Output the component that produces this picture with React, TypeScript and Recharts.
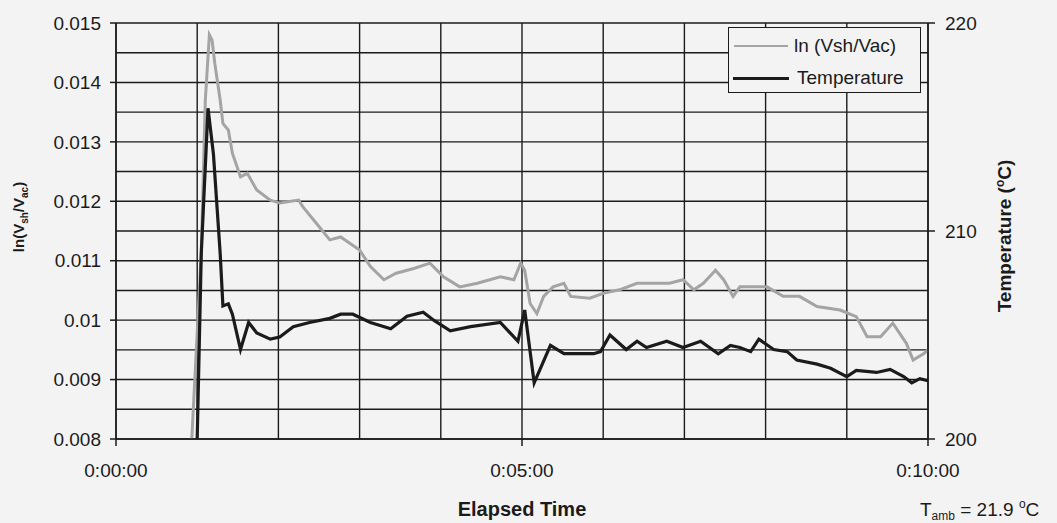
import React from 'react';
import { LineChart, Line, XAxis, YAxis, CartesianGrid, Legend } from 'recharts';

// ln(Vsh/Vac) trace, seconds from start
const lnTime = [
  56, 63, 66, 69, 71, 73, 77, 79, 83, 86, 92, 97, 104, 114, 121, 135, 138, 148, 158, 166,
  180, 188, 198, 207, 220, 232, 242, 254, 267, 284, 294, 299, 302, 306, 311, 316, 323, 331,
  336, 350, 360, 372, 385, 397, 409, 419, 427, 434, 443, 449, 456, 461, 469, 481, 493, 505,
  518, 535, 547, 555, 565, 574, 584, 589, 597, 600,
];
const lnRatio = [
  0.008, 0.01113, 0.0137, 0.0148, 0.01471, 0.01432, 0.0137, 0.01331, 0.0132, 0.01281,
  0.01241, 0.01247, 0.01219, 0.01202, 0.01197, 0.01202, 0.01191, 0.01163, 0.01135, 0.0114,
  0.01118, 0.0109, 0.01068, 0.01079, 0.01087, 0.01096, 0.01073, 0.01056, 0.01062, 0.01073,
  0.01068, 0.01096, 0.01084, 0.01028, 0.01011, 0.0104, 0.01056, 0.01062, 0.0104, 0.01037,
  0.01045, 0.01051, 0.01062, 0.01062, 0.01062, 0.01068, 0.01051, 0.01062, 0.01084, 0.01068,
  0.0104, 0.01056, 0.01056, 0.01056, 0.0104, 0.0104, 0.01023, 0.01017, 0.01006, 0.00972,
  0.00972, 0.00995, 0.00961, 0.00933, 0.00944, 0.0095,
];

// temperature trace, seconds from start
const tempTime = [
  60, 63, 68, 72, 77, 79, 83, 86, 92, 98, 104, 114, 121, 131, 143, 158, 166, 175, 188, 203,
  215, 227, 235, 247, 262, 284, 297, 302, 309, 321, 331, 353, 358, 365, 377, 385, 392, 407,
  419, 432, 445, 454, 461, 469, 475, 486, 496, 503, 518, 528, 540, 547, 562, 572, 582, 588,
  594, 600,
];
const tempC = [
  200.0, 208.9, 215.9, 213.7, 208.9, 206.4, 206.5, 206.0, 204.3, 205.6, 205.1, 204.8, 204.9,
  205.4, 205.6, 205.8, 206.0, 206.0, 205.6, 205.3, 205.9, 206.1, 205.7, 205.2, 205.4, 205.6,
  204.7, 206.2, 202.7, 204.5, 204.1, 204.1, 204.2, 205.0, 204.3, 204.7, 204.4, 204.7, 204.4,
  204.7, 204.1, 204.5, 204.4, 204.2, 204.8, 204.3, 204.2, 203.8, 203.6, 203.4, 203.0, 203.3,
  203.2, 203.35, 203.0, 202.7, 202.9, 202.8,
];

const timeTicks = [0, 60, 120, 180, 240, 300, 360, 420, 480, 540, 600];
const timeLabelAt = [0, 300, 600];
const timeLabels = ['0:00:00', '0:05:00', '0:10:00'];

const lnTicks = [
  0.008, 0.0085, 0.009, 0.0095, 0.01, 0.0105, 0.011, 0.0115, 0.012, 0.0125, 0.013, 0.0135,
  0.014, 0.0145, 0.015,
];
const lnLabels = ['0.008', '0.009', '0.01', '0.011', '0.012', '0.013', '0.014', '0.015'];

const tempTicks = [200, 210, 220];

const lnData = lnTime.map((t, i) => ({ t, v: lnRatio[i] }));
const tempData = tempTime.map((t, i) => ({ t, temp: tempC[i] }));

const FONT = '"Liberation Sans", Arial, sans-serif';
const INK = '#1b1b1b';
const GREY = '#a4a4a4';

const LnTick = (props: any) => {
  const { x, y, payload } = props;
  const label = lnLabels.find((s) => Math.abs(parseFloat(s) - payload.value) < 1e-9);
  if (!label) return <g />;
  return (
    <g>
      <line x1={x - 6} x2={x} y1={y} y2={y} stroke={INK} strokeWidth={1.5} />
      <text x={x - 15} y={y} dy="0.35em" textAnchor="end" fontSize={19} fill={INK} fontFamily={FONT}>
        {label}
      </text>
    </g>
  );
};

const TempTick = (props: any) => {
  const { x, y, payload } = props;
  return (
    <g>
      <line x1={x} x2={x + 7} y1={y} y2={y} stroke={INK} strokeWidth={1.5} />
      <text x={x + 17} y={y} dy="0.35em" textAnchor="start" fontSize={19} fill={INK} fontFamily={FONT}>
        {payload.value}
      </text>
    </g>
  );
};

const TimeTick = (props: any) => {
  const { x, y, payload } = props;
  const idx = timeLabelAt.indexOf(payload.value);
  if (idx < 0) return <g />;
  return (
    <g>
      <line x1={x} x2={x} y1={y} y2={y + 7} stroke={INK} strokeWidth={1.5} />
      <text x={x} y={y + 38} textAnchor="middle" fontSize={19} fill={INK} fontFamily={FONT}>
        {timeLabels[idx]}
      </text>
    </g>
  );
};

const LegendBox = () => (
  <div
    style={{
      width: 193,
      height: 66,
      border: `1.5px solid ${INK}`,
      background: '#f3f3f3',
      fontFamily: FONT,
      fontSize: 19,
      color: INK,
      boxSizing: 'border-box',
    }}
  >
    <div style={{ display: 'flex', alignItems: 'center', height: 32, paddingTop: 2 }}>
      <span style={{ display: 'inline-block', width: 54, height: 2, background: GREY, marginLeft: 5, marginRight: 6 }} />
      <span>ln (Vsh/Vac)</span>
    </div>
    <div style={{ display: 'flex', alignItems: 'center', height: 32 }}>
      <span style={{ display: 'inline-block', width: 56, height: 3, background: INK, marginLeft: 4, marginRight: 8 }} />
      <span>Temperature</span>
    </div>
  </div>
);

export default function App() {
  return (
    <div
      style={{
        position: 'absolute',
        left: 0,
        top: 0,
        width: 1057,
        height: 523,
        background: '#f3f3f3',
        overflow: 'hidden',
      }}
    >
      <LineChart width={1057} height={523} margin={{ top: 23, right: 49, bottom: 44, left: 16 }}>
        <CartesianGrid yAxisId="ln" stroke={INK} strokeWidth={1.4} />
        <XAxis
          dataKey="t"
          type="number"
          domain={[0, 600]}
          ticks={timeTicks}
          interval={0}
          height={40}
          tickSize={0}
          tickMargin={0}
          tick={<TimeTick />}
          axisLine={{ stroke: INK, strokeWidth: 1.5 }}
          tickLine={false}
        />
        <YAxis
          yAxisId="ln"
          orientation="left"
          type="number"
          domain={[0.008, 0.015]}
          ticks={lnTicks}
          interval={0}
          width={100}
          tickSize={0}
          tickMargin={0}
          tick={<LnTick />}
          axisLine={{ stroke: INK, strokeWidth: 1.5 }}
          tickLine={false}
        />
        <YAxis
          yAxisId="temp"
          orientation="right"
          type="number"
          domain={[200, 220]}
          ticks={tempTicks}
          interval={0}
          width={80}
          tickSize={0}
          tickMargin={0}
          tick={<TempTick />}
          axisLine={{ stroke: INK, strokeWidth: 1.5 }}
          tickLine={false}
        />
        <Legend
          layout="horizontal"
          verticalAlign="middle"
          content={<LegendBox />}
          wrapperStyle={{ position: 'absolute', left: 728, top: 27, width: 193, height: 66 }}
        />
        <Line
          yAxisId="ln"
          data={lnData}
          dataKey="v"
          name="ln (Vsh/Vac)"
          type="linear"
          stroke={GREY}
          strokeWidth={3}
          dot={false}
          isAnimationActive={false}
        />
        <Line
          yAxisId="temp"
          data={tempData}
          dataKey="temp"
          name="Temperature"
          type="linear"
          stroke={INK}
          strokeWidth={3.2}
          dot={false}
          isAnimationActive={false}
        />
      </LineChart>
      <svg
        width={1057}
        height={523}
        style={{ position: 'absolute', left: 0, top: 0, pointerEvents: 'none' }}
        fontFamily={FONT}
        fill={INK}
      >
        <text transform="translate(24 217) rotate(-90)" textAnchor="middle" fontSize={15} fontWeight="bold">
          <tspan>ln(V</tspan>
          <tspan dy={4} fontSize={10}>sh</tspan>
          <tspan dy={-4}>/V</tspan>
          <tspan dy={4} fontSize={10}>ac</tspan>
          <tspan dy={-4}>)</tspan>
        </text>
        <text transform="translate(1011 236) rotate(-90)" textAnchor="middle" fontSize={19} fontWeight="bold">
          <tspan>Temperature (</tspan>
          <tspan dy={-7} fontSize={12}>o</tspan>
          <tspan dy={7}>C)</tspan>
        </text>
        <text x={522} y={516} textAnchor="middle" fontSize={20} fontWeight="bold">
          Elapsed Time
        </text>
        <text x={920} y={516} fontSize={19}>
          <tspan>T</tspan>
          <tspan dy={4} fontSize={12}>amb</tspan>
          <tspan dy={-4}> = 21.9 </tspan>
          <tspan dy={-8} fontSize={12}>o</tspan>
          <tspan dy={8}>C</tspan>
        </text>
      </svg>
    </div>
  );
}
